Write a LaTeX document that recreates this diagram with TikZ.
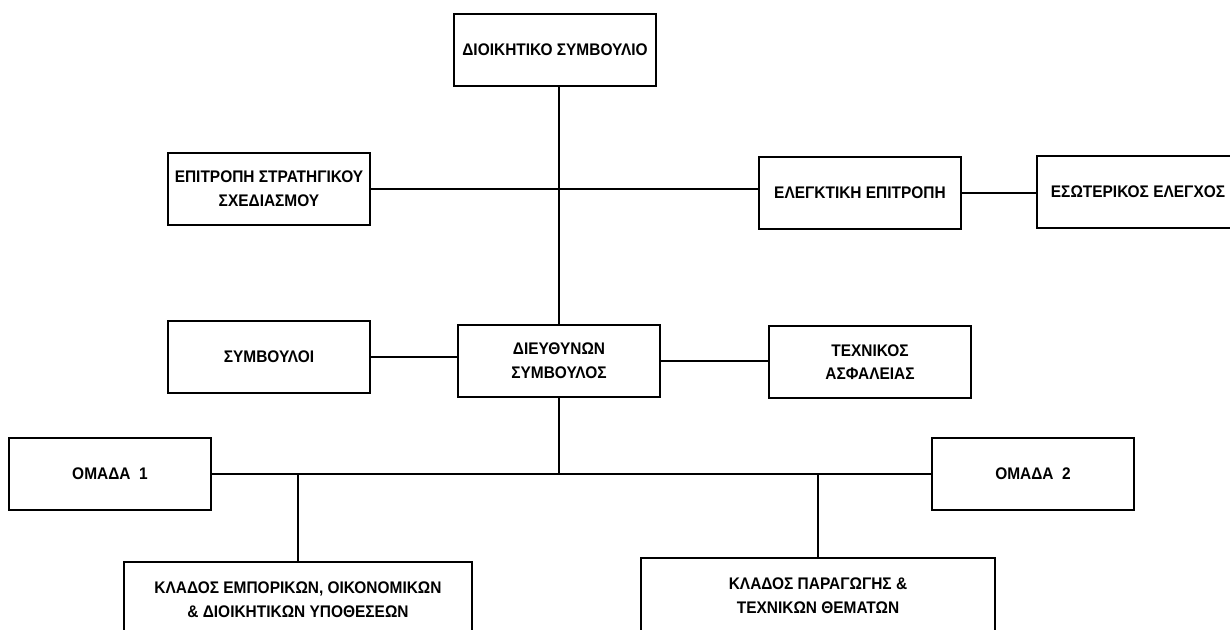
\documentclass[tikz,border=0pt]{standalone}
\usepackage{fontspec}
\setmainfont{Liberation Sans}[FakeStretch=0.92]
\usepackage{tikz}
\usetikzlibrary{positioning, calc}

\begin{document}
\begin{tikzpicture}[
            x=0.5pt, y=-0.5pt,
            box/.style={rectangle, draw, line width=0.9pt, minimum width=101pt, minimum height=36pt,
                inner sep=0pt, align=center, font=\bfseries\fontsize{8.4}{11.8}\selectfont},
            branch/.style={box, minimum width=174pt, minimum height=37.5pt},
            link/.style={line width=0.65pt},
            busline/.style={line width=1pt}
        ]
        \useasboundingbox (0,0) rectangle (1230,630);
        \clip (0,0) rectangle (1230,630);

        \node[box] (board) at (555,50) {ΔΙΟΙΚΗΤΙΚΟ ΣΥΜΒΟΥΛΙΟ};
        \node[box] (strategy) at (269,189) {ΕΠΙΤΡΟΠΗ ΣΤΡΑΤΗΓΙΚΟΥ\\ΣΧΕΔΙΑΣΜΟΥ};
        \node[box] (audit) at (860,193) {ΕΛΕΓΚΤΙΚΗ ΕΠΙΤΡΟΠΗ};
        \node[box] (internal) at (1138,192) {ΕΣΩΤΕΡΙΚΟΣ ΕΛΕΓΧΟΣ};
        \node[box] (advisors) at (269,357) {ΣΥΜΒΟΥΛΟΙ};
        \node[box] (ceo) at (559,361) {ΔΙΕΥΘΥΝΩΝ\\ΣΥΜΒΟΥΛΟΣ};
        \node[box] (safety) at (870,362) {ΤΕΧΝΙΚΟΣ\\ΑΣΦΑΛΕΙΑΣ};
        \node[box] (group1) at (110,474) {ΟΜΑΔΑ\ \ 1};
        \node[box] (group2) at (1033,474) {ΟΜΑΔΑ\ \ 2};
        \node[branch] (commercial) at (298,599.5) {ΚΛΑΔΟΣ ΕΜΠΟΡΙΚΩΝ, ΟΙΚΟΝΟΜΙΚΩΝ\\\& ΔΙΟΙΚΗΤΙΚΩΝ ΥΠΟΘΕΣΕΩΝ};
        \node[branch, minimum width=177pt] (production) at (818,595.5) {ΚΛΑΔΟΣ ΠΑΡΑΓΩΓΗΣ \&\\ΤΕΧΝΙΚΩΝ ΘΕΜΑΤΩΝ};

        % Board level
        \draw[link] (ceo.north |- board.south) -- (ceo.north);
        \draw[link] (strategy.east) -- (strategy.east -| audit.west);
        \draw[link] (audit.east) -- (audit.east -| internal.west);

        % CEO level
        \draw[link] (advisors.east) -- (advisors.east -| ceo.west);
        \draw[link] (ceo.east) -- (ceo.east -| safety.west);

        % Groups and branches
        \coordinate (bus) at (ceo.south |- group1.east);
        \draw[link] (ceo.south) -- (bus);
        \draw[busline] (group1.east) -- (group2.west);
        \draw[link] (group1.east -| commercial.north) -- (commercial.north);
        \draw[link] (group2.west -| production.north) -- (production.north);

    \end{tikzpicture}
\end{document}
